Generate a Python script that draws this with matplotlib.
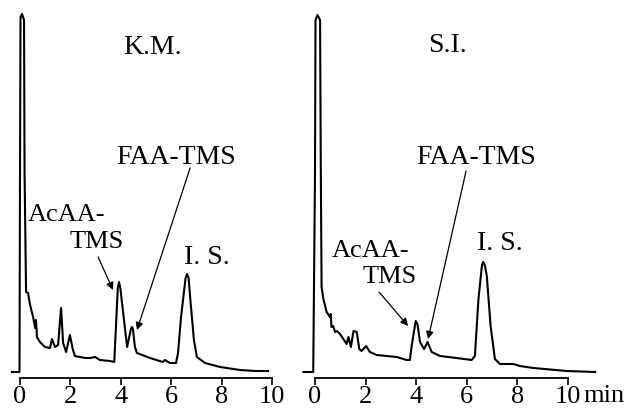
import matplotlib
matplotlib.use("Agg")
import matplotlib.pyplot as plt

plt.rcParams['font.family'] = 'Liberation Serif'
plt.rcParams['font.size'] = 20

# Data (retention time in min, detector response in arbitrary units)
km_time = [-0.32, -0.02, 0.0, 0.02, 0.08, 0.16, 0.18, 0.24, 0.32, 0.40, 0.52,
           0.60, 0.63, 0.66, 0.67, 0.79, 0.99, 1.19, 1.27, 1.39, 1.51, 1.63,
           1.71, 1.83, 1.98, 2.10, 2.18, 2.38, 2.58, 2.78, 2.98, 3.17, 3.57,
           3.74, 3.88, 3.93, 3.98, 4.25, 4.40, 4.44, 4.48, 4.56, 4.64, 5.16,
           5.67, 5.75, 5.95, 6.19, 6.27, 6.39, 6.57, 6.63, 6.69, 6.75, 6.90,
           7.02, 7.34, 7.94, 8.73, 9.33, 9.84]
km_resp = [0, 0, 200, 355, 358, 352, 200, 80, 79, 67, 55,
           44, 52, 42, 35, 30, 25, 24, 33, 25, 27, 64,
           29, 20, 37, 22, 16, 15, 14, 14, 15, 12, 11,
           10, 84, 90, 84, 25, 43, 45, 43, 25, 19, 14,
           10, 12, 9, 9, 19, 55, 94, 98, 94, 75, 32,
           15, 9, 5, 2, 1, 1]

si_time = [-0.46, -0.07, 0.0, 0.02, 0.10, 0.20, 0.23, 0.26, 0.33, 0.46, 0.59,
           0.62, 0.65, 0.72, 0.79, 0.86, 0.99, 1.12, 1.25, 1.32, 1.42, 1.52,
           1.65, 1.75, 1.84, 2.02, 2.17, 2.44, 2.83, 3.23, 3.62, 3.75, 3.82,
           3.98, 4.05, 4.15, 4.31, 4.45, 4.61, 4.94, 5.60, 6.19, 6.32, 6.46,
           6.60, 6.65, 6.71, 6.79, 6.94, 7.11, 7.31, 7.84, 8.10, 8.63, 9.95,
           11.07]
si_resp = [0, 0, 200, 352, 357, 352, 200, 85, 73, 60, 55,
           58, 45, 46, 40, 41, 38, 33, 28, 35, 25, 41,
           40, 23, 21, 26, 20, 17, 16, 15, 12, 12, 26,
           51, 48, 30, 23, 30, 20, 16, 14, 12, 16, 73,
           107, 110, 107, 96, 46, 13, 8, 8, 6, 4, 1,
           0]

ticks = [0, 2, 4, 6, 8, 10]

fig = plt.figure(figsize=(6.29, 4.16), dpi=100)
ax1 = fig.add_axes([0, 0, 300 / 629, 1])
ax2 = fig.add_axes([300 / 629, 0, 329 / 629, 1])
ax1.set_xlim(-0.794, 11.11)
ax2.set_xlim(-0.593, 12.41)

for ax in (ax1, ax2):
    ax.set_ylim(-44, 372)
    for side in ['top', 'right', 'left']:
        ax.spines[side].set_visible(False)
    ax.spines['bottom'].set_position(('data', -6))
    ax.spines['bottom'].set_bounds(0, 10)
    ax.spines['bottom'].set_linewidth(1.3)
    ax.set_yticks([])
    ax.set_xticks(ticks)
    ax.set_xticklabels([str(t) for t in ticks], fontsize=19)
    ax.tick_params(direction='out', length=5, width=1.2, pad=0.5)
    ax.patch.set_visible(False)

ax1.plot(km_time, km_resp, color='black', lw=1.5)
ax2.plot(si_time, si_resp, color='black', lw=1.5)

arrow = dict(arrowstyle='-|>', lw=0.9, color='black', mutation_scale=11,
             shrinkA=0, shrinkB=0)

# Left panel labels
ax1.text(5.24, 324, "K.M.", ha='center', va='center')
ax1.text(6.19, 215, "FAA-TMS", ha='center', va='center')
ax1.annotate('', xy=(4.64, 42), xytext=(6.75, 204), arrowprops=arrow)
ax1.text(1.83, 157, "AcAA-", ha='center', va='center', fontsize=19)
ax1.text(3.06, 130, "TMS", ha='center', va='center', fontsize=19)
ax1.annotate('', xy=(3.69, 82), xytext=(3.10, 115), arrowprops=arrow)
ax1.text(7.42, 115, "I. S.", ha='center', va='center')

# Right panel labels
ax2.text(5.22, 326, "S.I.", ha='center', va='center')
ax2.text(6.36, 214, "FAA-TMS", ha='center', va='center')
ax2.annotate('', xy=(4.47, 33), xytext=(5.97, 201), arrowprops=arrow)
ax2.text(2.21, 121, "AcAA-", ha='center', va='center', fontsize=19)
ax2.text(2.96, 95, "TMS", ha='center', va='center', fontsize=19)
ax2.annotate('', xy=(3.68, 46), xytext=(2.53, 80), arrowprops=arrow)
ax2.text(7.31, 128, "I. S.", ha='center', va='center')
ax2.text(10.6, -12.5, "min", ha='left', va='top', fontsize=19)

fig.savefig("out.png", dpi=100)
plt.close(fig)
